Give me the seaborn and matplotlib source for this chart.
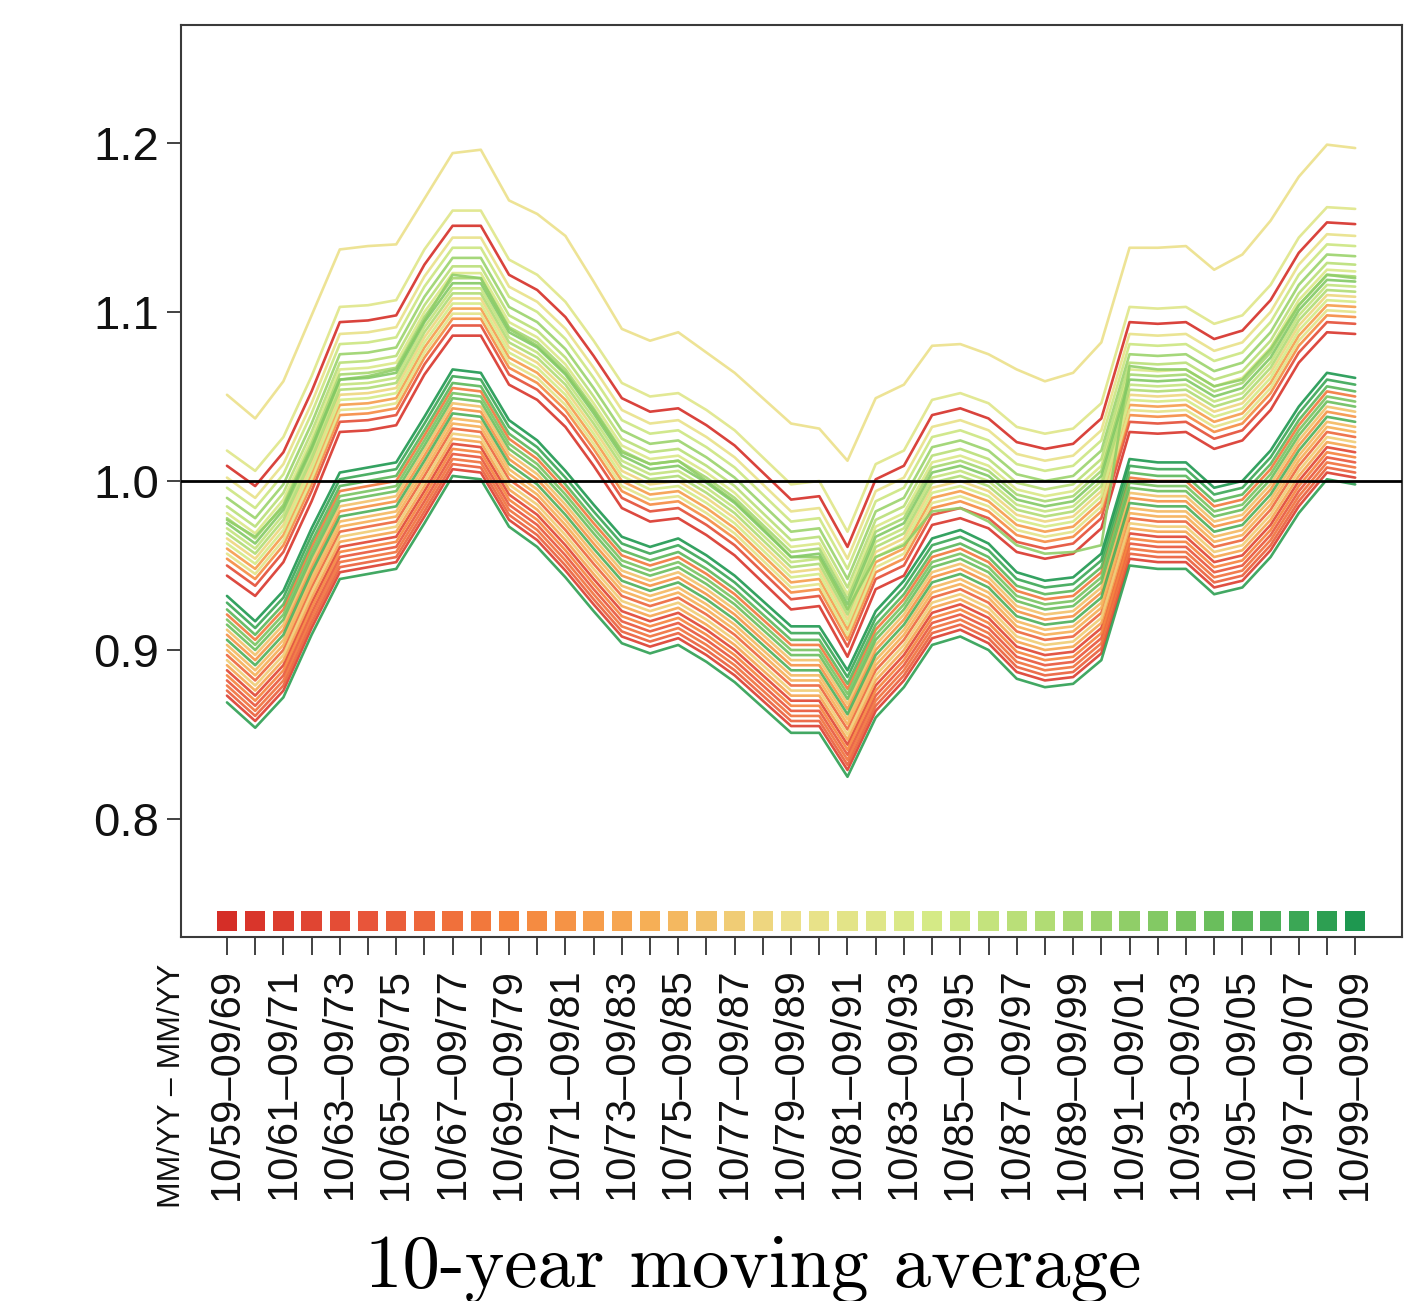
import numpy as np
import pandas as pd
import matplotlib
matplotlib.use("Agg")
import matplotlib.pyplot as plt
import matplotlib.transforms as mtransforms
import seaborn as sns

# ---------------- data ----------------
windows = ["10/59–09/69", "10/60–09/70", "10/61–09/71", "10/62–09/72", "10/63–09/73",
           "10/64–09/74", "10/65–09/75", "10/66–09/76", "10/67–09/77", "10/68–09/78",
           "10/69–09/79", "10/70–09/80", "10/71–09/81", "10/72–09/82", "10/73–09/83",
           "10/74–09/84", "10/75–09/85", "10/76–09/86", "10/77–09/87", "10/78–09/88",
           "10/79–09/89", "10/80–09/90", "10/81–09/91", "10/82–09/92", "10/83–09/93",
           "10/84–09/94", "10/85–09/95", "10/86–09/96", "10/87–09/97", "10/88–09/98",
           "10/89–09/99", "10/90–09/00", "10/91–09/01", "10/92–09/02", "10/93–09/03",
           "10/94–09/04", "10/95–09/05", "10/96–09/06", "10/97–09/07", "10/98–09/08",
           "10/99–09/09"]

# highest (pale yellow) line
top_line = [1.051, 1.037, 1.059, 1.098, 1.137, 1.139, 1.140, 1.167, 1.194, 1.196,
            1.166, 1.158, 1.145, 1.118, 1.090, 1.083, 1.088, 1.076, 1.064, 1.049,
            1.034, 1.031, 1.012, 1.049, 1.057, 1.080, 1.081, 1.075, 1.066, 1.059,
            1.064, 1.082, 1.138, 1.138, 1.139, 1.125, 1.134, 1.154, 1.180, 1.199,
            1.197]
# bright lime line that crosses between the bundles
lime_line = [0.977, 0.967, 0.985, 1.020, 1.060, 1.062, 1.066, 1.095, 1.122, 1.120,
             1.090, 1.080, 1.064, 1.042, 1.017, 1.010, 1.012, 1.000, 0.988, 0.972,
             0.955, 0.955, 0.924, 0.955, 0.962, 0.982, 0.984, 0.976, 0.962, 0.957,
             0.958, 0.962, 1.068, 1.066, 1.066, 1.056, 1.060, 1.078, 1.104, 1.122,
             1.120]
# top edge of the upper bundle
upper_profile = [1.018, 1.006, 1.026, 1.062, 1.103, 1.104, 1.107, 1.137, 1.160, 1.160,
                 1.131, 1.122, 1.106, 1.083, 1.058, 1.050, 1.052, 1.042, 1.030, 1.014,
                 0.998, 1.000, 0.970, 1.010, 1.018, 1.048, 1.052, 1.046, 1.032, 1.028,
                 1.031, 1.046, 1.103, 1.102, 1.103, 1.093, 1.098, 1.116, 1.144, 1.162,
                 1.161]
# top edge of the lower bundle
lower_profile = [0.932, 0.917, 0.935, 0.972, 1.005, 1.008, 1.011, 1.038, 1.066, 1.064,
                 1.036, 1.024, 1.006, 0.986, 0.967, 0.961, 0.966, 0.956, 0.944, 0.929,
                 0.914, 0.914, 0.888, 0.923, 0.941, 0.966, 0.971, 0.963, 0.946, 0.941,
                 0.943, 0.957, 1.013, 1.011, 1.011, 0.996, 1.000, 1.018, 1.044, 1.064,
                 1.061]

top_series = 20
lime_series = 32
upper_series = [23, 0, 21, 26, 31, 28, 24, 30, 33, 27, 29, 19, 25, 13, 22, 11, 4, 1]
upper_offsets = [0.000, -0.009, -0.016, -0.022, -0.028, -0.033, -0.037, -0.040, -0.043,
                 -0.046, -0.049, -0.052, -0.055, -0.058, -0.061, -0.064, -0.068, -0.074]
lower_series = [40, 38, 36, 9, 34, 35, 17, 12, 37, 16, 15, 7, 18, 14, 3, 10, 5, 8, 6, 2, 39]
lower_offsets = [0.000, -0.004, -0.008, -0.011, -0.014, -0.017, -0.020, -0.023, -0.026,
                 -0.029, -0.032, -0.035, -0.038, -0.041, -0.044, -0.047, -0.050, -0.053,
                 -0.056, -0.059, -0.063]

y_ticks = [0.8, 0.9, 1.0, 1.1, 1.2]
y_tick_labels = ["0.8", "0.9", "1.0", "1.1", "1.2"]
reference_level = 1.0
title_text = "10-year moving average"
period_caption = "MM/YY – MM/YY"

# ---------------- table ----------------
positions = list(range(len(windows)))
records = []
for p, v in zip(positions, top_line):
    records.append({"series": top_series, "pos": p, "value": v})
for p, v in zip(positions, lime_line):
    records.append({"series": lime_series, "pos": p, "value": v})
for s, off in zip(upper_series, upper_offsets):
    for p, v in zip(positions, upper_profile):
        records.append({"series": s, "pos": p, "value": v + off})
for s, off in zip(lower_series, lower_offsets):
    for p, v in zip(positions, lower_profile):
        records.append({"series": s, "pos": p, "value": v + off})
df = pd.DataFrame(records)

# ---------------- style ----------------
sns.set_style("white")
plt.rcParams["font.family"] = ["Liberation Sans", "DejaVu Sans"]
plt.rcParams["text.color"] = "black"
plt.rcParams["xtick.color"] = "black"
plt.rcParams["ytick.color"] = "black"

n_col = len(windows)
ramp = sns.blend_palette(["#d52e27", "#e8553a", "#f5823c", "#f6ae55", "#ece08a",
                          "#d6ea86", "#a8d870", "#6cbf5c", "#1e9850"], n_colors=n_col)
palette = {k: ramp[k] for k in range(n_col)}

fig = plt.figure(figsize=(14.07, 13.01), dpi=100)
ax = fig.add_axes([181 / 1407, 1 - 937 / 1301, (1402 - 181) / 1407, (937 - 25) / 1301])

sns.lineplot(data=df, x="pos", y="value", hue="series", hue_order=list(range(n_col)),
             palette=palette, estimator=None, legend=False, linewidth=1.9, alpha=0.9,
             ax=ax)

ax.axhline(reference_level, color="black", lw=2.0, zorder=5)

sq_df = pd.DataFrame({"pos": positions, "y": [0.7396] * n_col, "c": positions})
sns.scatterplot(data=sq_df, x="pos", y="y", hue="c", palette=palette, marker="s",
                s=215, linewidth=0, legend=False, ax=ax, zorder=6)

ax.set_xlim(-1.63, 41.66)
ax.set_ylim(0.7302, 1.2698)
ax.set_yticks(y_ticks)
ax.set_yticklabels(y_tick_labels)
ax.set_xticks(positions[::2])
ax.set_xticklabels(windows[::2], rotation=90)
ax.set_xticks(positions[1::2], minor=True)
ax.set_xlabel("")
ax.set_ylabel("")

ax.tick_params(axis="y", which="major", direction="out", length=10, width=1.3,
               labelsize=34, pad=6, left=True, color="#333333", labelcolor="#111111")
ax.tick_params(axis="x", which="both", direction="out", length=13, width=1.3,
               labelsize=30, pad=9, bottom=True, color="#333333", labelcolor="#111111")
for sp in ax.spines.values():
    sp.set_color("#3a3a3a")
    sp.set_linewidth(1.5)

trans = mtransforms.blended_transform_factory(ax.transData, ax.transAxes)
ax.text(-1.95, -0.029, period_caption, rotation=90, ha="center", va="top",
        fontsize=23, color="#111111", transform=trans)

fig.text(0.535, 1 - 1287 / 1301, title_text, ha="center", va="baseline", fontsize=54,
         family="cmr10", color="black")

fig.savefig("out.png", dpi=100)
